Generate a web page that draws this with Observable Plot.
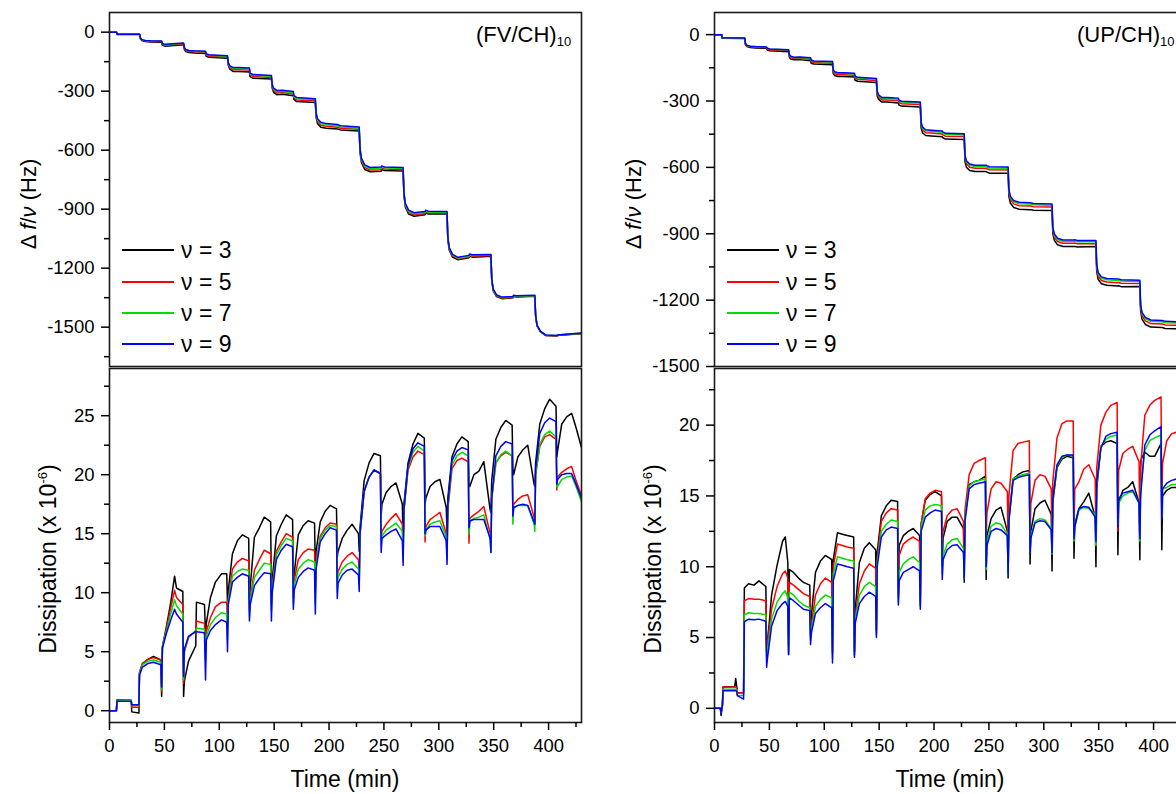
<!DOCTYPE html>
<html><head><meta charset="utf-8">
<script src="https://cdn.jsdelivr.net/npm/d3@7"></script>
<script src="https://cdn.jsdelivr.net/npm/@observablehq/plot@0.6"></script>
<style>
html,body{margin:0;padding:0;background:#fff;overflow:hidden;}
#root{position:relative;width:1176px;height:794px;overflow:hidden;background:#fff;font-family:"Liberation Sans",Arial,sans-serif;color:#000;}
.abs{position:absolute;white-space:nowrap;line-height:1;}
.ylab{position:absolute;white-space:nowrap;line-height:1;font-size:22px;transform:translate(-50%,-50%) rotate(-90deg);}
.leg{position:absolute;height:2px;width:52px;}
</style></head><body><div id="root"></div>
<script>
// ---------------- data ----------------
const harmonics = [3, 5, 7, 9];
const colors = ["#000000", "#ff0000", "#00dd00", "#0000ff"];
const panelTitles = ["(FV/CH)", "(UP/CH)"];
const titleSub = "10";

const xTicksMajor = [0, 50, 100, 150, 200, 250, 300, 350, 400];
const xTicksMinor = [25, 75, 125, 175, 225, 275, 325, 375, 425];
const freqTicksL = [0, -300, -600, -900, -1200, -1500];
const freqMinorL = [-150, -450, -750, -1050, -1350, -1650];
const freqTicksR = [0, -300, -600, -900, -1200, -1500];
const freqMinorR = [-150, -450, -750, -1050, -1350];
const dissTicksL = [0, 5, 10, 15, 20, 25];
const dissMinorL = [2.5, 7.5, 12.5, 17.5, 22.5, 27.5];
const dissTicksR = [0, 5, 10, 15, 20];
const dissMinorR = [2.5, 7.5, 12.5, 17.5, 22.5];

// frequency, left (FV/CH)10
const tFL = [0,6.5,7,
27.5,28.2,29.5,32.5,37.5,47.5,48,50.5,
67.5,68.2,69.5,72.5,77.5,87.5,88,90.5,
107.5,108.2,109.5,112.5,117.5,127.5,128,130.5,
147.5,148.2,149.5,152.5,157.5,167.5,168,170.5,
187.5,188.2,189.5,192.5,197.5,207.5,208,210.5,
227.5,228.2,229.5,232.5,237.5,247.5,248,250.5,
267.5,268.2,269.5,272.5,277.5,287.5,288,290.5,
307.5,308.2,309.5,312.5,317.5,327.5,328,330.5,
347.5,348.2,349.5,352.5,357.5,367.5,368,370.5,
387.5,388.2,389.5,392.5,397.5,407.5,408,410.5,
430];
const f3L = [0,0,-12,
-12,-34,-43,-48,-50,-51,-66,-71,
-64,-88,-99,-104,-106,-108,-121,-128,
-133,-168,-187,-200,-200,-202,-226,-234,
-238,-284,-306,-318,-316,-323,-342,-353,
-357,-432,-465,-483,-489,-493,-492,-497,
-502,-610,-662,-698,-710,-707,-699,-703,
-706,-826,-889,-925,-936,-928,-920,-925,
-925,-1052,-1108,-1144,-1157,-1147,-1140,-1144,
-1139,-1256,-1314,-1344,-1355,-1351,-1344,-1346,
-1343,-1443,-1493,-1523,-1543,-1545,-1543,-1541,
-1533];
const f5L = [0,0,-11,
-11,-32,-40,-45,-47,-48,-62,-67,
-60,-83,-93,-98,-100,-102,-115,-122,
-127,-162,-179,-191,-191,-193,-217,-225,
-230,-276,-297,-309,-307,-315,-334,-345,
-349,-423,-455,-473,-479,-484,-483,-489,
-494,-602,-654,-689,-701,-699,-692,-696,
-699,-820,-882,-918,-929,-922,-915,-920,
-920,-1048,-1104,-1139,-1153,-1143,-1136,-1140,
-1136,-1254,-1311,-1341,-1352,-1349,-1342,-1344,
-1341,-1442,-1492,-1522,-1542,-1544,-1542,-1540,
-1532];
const f7L = [0,0,-10,
-10,-31,-39,-43,-45,-46,-60,-64,
-57,-80,-90,-95,-97,-99,-112,-118,
-123,-158,-174,-185,-185,-187,-212,-219,
-224,-270,-290,-302,-300,-308,-328,-338,
-343,-416,-447,-465,-471,-476,-476,-482,
-488,-596,-647,-682,-694,-692,-686,-690,
-693,-815,-876,-911,-923,-917,-910,-915,
-916,-1044,-1099,-1134,-1149,-1139,-1132,-1136,
-1133,-1252,-1308,-1338,-1350,-1347,-1340,-1342,
-1340,-1441,-1491,-1521,-1541,-1543,-1541,-1539,
-1531];
const f9L = [0,0,-10,
-10,-30,-38,-42,-44,-45,-58,-62,
-55,-78,-88,-93,-95,-97,-110,-115,
-120,-155,-170,-180,-180,-182,-208,-215,
-220,-265,-285,-296,-295,-302,-322,-332,
-338,-410,-440,-458,-465,-470,-470,-476,
-482,-590,-640,-675,-688,-686,-680,-685,
-688,-810,-870,-905,-918,-912,-905,-910,
-912,-1040,-1095,-1130,-1145,-1135,-1128,-1132,
-1130,-1250,-1305,-1335,-1347,-1345,-1338,-1340,
-1338,-1440,-1490,-1520,-1540,-1542,-1540,-1538,
-1530];

// frequency, right (UP/CH)10
const tFR = [0,6.5,7,
27.5,28.2,29.5,32.5,37.5,47.5,48,50.5,
67.5,68.2,69.5,72.5,77.5,87.5,88,90.5,
107.5,108.2,109.5,112.5,117.5,127.5,128,130.5,
147.5,148.2,149.5,152.5,157.5,167.5,168,170.5,
187.5,188.2,189.5,192.5,197.5,207.5,208,210.5,
227.5,228.2,229.5,232.5,237.5,247.5,248,250.5,
267.5,268.2,269.5,272.5,277.5,287.5,288,290.5,
307.5,308.2,309.5,312.5,317.5,327.5,328,330.5,
347.5,348.2,349.5,352.5,357.5,367.5,368,370.5,
387.5,388.2,389.5,392.5,397.5,407.5,408,410.5,
421];
const f3R = [0,0,-16,
-17,-46,-54,-58,-60,-62,-70,-73,
-77,-102,-110,-114,-113,-118,-129,-133,
-136,-176,-185,-189,-189,-192,-206,-211,
-216,-276,-293,-305,-305,-309,-318,-323,
-327,-421,-444,-456,-458,-462,-466,-472,
-474,-574,-599,-614,-619,-619,-621,-626,
-627,-731,-761,-781,-789,-791,-791,-794,
-795,-898,-929,-950,-958,-958,-957,-960,
-958,-1070,-1106,-1126,-1133,-1136,-1135,-1139,
-1138,-1250,-1286,-1310,-1322,-1324,-1324,-1328,
-1330];
const f5R = [0,0,-15,
-16,-43,-51,-55,-57,-59,-66,-69,
-72,-96,-104,-108,-107,-111,-122,-126,
-129,-168,-177,-181,-181,-184,-197,-202,
-207,-266,-283,-295,-295,-298,-307,-312,
-316,-408,-431,-443,-445,-449,-453,-459,
-461,-559,-584,-599,-604,-604,-606,-611,
-612,-715,-745,-765,-773,-775,-775,-778,
-779,-885,-915,-935,-943,-943,-942,-945,
-945,-1056,-1091,-1111,-1118,-1121,-1120,-1124,
-1125,-1236,-1271,-1294,-1306,-1308,-1308,-1312,
-1314];
const f7R = [0,0,-14,
-15,-41,-49,-53,-55,-57,-63,-66,
-69,-92,-100,-104,-103,-107,-117,-121,
-124,-163,-171,-175,-175,-178,-191,-196,
-201,-259,-276,-288,-288,-291,-300,-305,
-309,-400,-423,-435,-437,-441,-445,-451,
-453,-551,-576,-591,-596,-596,-598,-603,
-604,-706,-736,-756,-764,-766,-766,-769,
-771,-876,-906,-926,-934,-934,-933,-936,
-936,-1046,-1081,-1101,-1108,-1111,-1110,-1114,
-1116,-1226,-1261,-1284,-1296,-1298,-1298,-1302,
-1304];
const f9R = [0,0,-14,
-15,-40,-48,-52,-54,-56,-62,-65,
-68,-90,-98,-102,-101,-105,-115,-119,
-122,-160,-168,-172,-172,-175,-188,-193,
-198,-255,-272,-284,-284,-287,-296,-301,
-305,-395,-418,-430,-432,-436,-440,-446,
-448,-545,-570,-585,-590,-590,-592,-597,
-598,-700,-730,-750,-758,-760,-760,-763,
-765,-870,-900,-920,-928,-928,-927,-930,
-930,-1040,-1075,-1095,-1102,-1105,-1104,-1108,
-1110,-1220,-1255,-1278,-1290,-1292,-1292,-1296,
-1298];

// dissipation, left (x 10^-6)
const tDL = [0,6.3,6.8,19.8,20.3,26.8,27.3,30,35,40,46.8,
47.5,48.2,52,55.5,59.3,61,66.8,
67.5,68.2,72,78.6,79.2,86.5,
87.5,88.2,92,96.5,102,106.8,
107.5,108.2,112,116.5,121,126.8,
127.5,128.2,132,136.5,141,146.8,
147.5,148.2,152,156.5,161,166.8,
167.5,168.2,172,176.5,181,186.8,
187.5,188.2,192,196.5,201,206.8,
207.5,208.2,212,216.5,221,226.8,
227.5,228.2,232,236.5,241,246.8,
247.5,248.2,252,256.5,261,266.8,
267.5,268.2,272,276.5,281,286.8,
287.5,288.2,292,296.5,301,306.8,
307.5,308.2,312,316.5,321,326.8,
327.5,328.2,332,336.5,341,346.8,
347.5,348.2,352,356.5,361,366.8,
367.5,368.2,372,376.5,381,386.8,
387.5,388.2,392,396.5,401,406.8,
407.5,408.2,412,416.5,421,425,430];
const d3L = [0,0,0.9,0.85,-0.1,-0.2,3.2,4.0,4.35,4.6,4.3,
1.2,5.4,7.2,9.0,11.4,10.4,10.1,
1.2,2.5,4.2,5.5,9.2,9.0,
6.5,7.4,9.6,10.9,11.6,11.6,
9.0,10.2,13.3,14.4,14.9,14.6,
9.5,10.5,14.7,15.5,16.4,16.0,
10.0,11.0,14.8,15.8,16.6,16.2,
11.0,11.5,14.9,15.7,16.1,15.9,
12.0,13.5,16.0,16.9,17.4,17.1,
13.0,13.5,14.6,15.3,15.8,15.0,
13.5,15.5,19.5,21.0,21.8,21.6,
16.5,17.5,18.5,19.0,19.3,17.5,
14.0,17.5,21.0,22.6,23.5,23.1,
17.5,18.0,19.0,19.4,19.6,17.2,
15.0,18.0,21.5,22.6,23.2,22.8,
19.0,19.0,20.0,20.3,21.1,17.0,
16.8,19.5,23.0,24.0,24.6,24.2,
20.5,20.0,21.5,22.1,22.5,19.2,
19.0,21.0,24.3,25.6,26.4,25.8,
21.5,22.0,24.3,24.9,25.2,24.0,22.3];
const d5L = [0,0,0.9,0.9,0.3,0.3,3.2,4.0,4.35,4.5,4.3,
1.6,5.4,7.0,8.6,10.2,9.6,9.0,
2.3,5.0,6.2,6.8,7.6,7.4,
5.0,6.7,7.9,8.8,9.2,9.2,
7.0,9.5,12.0,12.6,12.9,12.7,
8.5,9.5,11.9,12.8,13.6,13.3,
9.0,10.5,13.5,14.3,15.0,14.7,
9.5,11.0,12.8,13.4,13.7,13.6,
10.0,12.5,14.8,15.5,15.9,15.8,
11.0,11.8,12.6,13.1,13.4,12.8,
11.0,15.0,18.6,19.8,20.4,20.1,
14.5,15.2,15.8,16.3,16.7,15.8,
13.0,17.0,20.4,21.5,22.0,21.7,
14.3,15.6,16.2,16.5,16.8,15.0,
13.0,17.0,20.5,21.2,21.4,21.1,
14.2,16.3,16.6,16.9,17.3,15.0,
14.5,18.0,21.0,21.6,21.9,21.6,
16.5,17.5,17.9,18.2,18.3,16.4,
15.8,20.0,22.4,23.2,23.4,23.0,
18.7,19.8,20.2,20.5,20.7,19.5,18.2];
const d7L = [0,0,0.85,0.85,0.45,0.45,3.1,3.9,4.2,4.3,4.1,
1.8,5.4,6.8,8.1,9.4,8.9,8.2,
2.6,5.1,6.3,6.7,7.0,6.9,
4.2,6.3,7.3,7.9,8.3,8.2,
6.0,9.3,11.4,11.8,12.0,11.9,
8.0,9.3,11.3,11.9,12.5,12.4,
8.5,10.2,13.2,14.0,14.6,14.4,
9.0,10.6,12.0,12.5,12.8,12.6,
9.0,12.3,14.6,15.3,15.7,15.6,
10.0,11.3,12.0,12.4,12.6,12.0,
10.8,15.0,18.6,19.8,20.4,20.1,
14.0,14.8,15.3,15.6,15.9,15.2,
12.8,17.0,20.6,21.9,22.4,22.0,
14.8,15.3,15.8,16.0,16.1,14.7,
12.8,17.3,20.8,21.6,21.9,21.6,
15.0,16.0,16.3,16.4,16.6,14.5,
13.4,18.0,21.0,21.7,22.0,21.6,
15.8,17.2,17.4,17.4,17.4,15.8,
15.2,20.0,22.6,23.4,23.7,23.2,
19.0,19.0,19.6,19.8,19.9,19.0,17.7];
const d9L = [0,0,0.8,0.8,0.5,0.5,3.0,3.7,4.0,4.1,3.9,
2.0,5.3,6.6,7.6,8.6,8.2,7.5,
2.9,5.2,6.3,6.7,6.7,6.6,
2.6,6.0,6.8,7.3,7.7,7.5,
5.0,9.0,10.9,11.3,11.6,11.4,
7.6,9.0,10.6,11.2,11.7,11.6,
7.6,10.0,12.8,13.6,14.1,13.9,
8.6,10.2,11.3,11.8,12.1,11.9,
8.2,12.0,14.3,15.0,15.5,15.3,
9.5,10.8,11.5,11.9,12.0,11.5,
10.1,15.0,18.6,19.8,20.4,20.1,
13.4,14.6,14.9,15.2,15.4,14.4,
12.3,17.0,20.8,22.2,22.7,22.4,
15.0,15.3,15.6,15.6,15.6,14.4,
12.4,17.5,21.2,22.0,22.3,22.1,
15.5,16.1,16.2,16.2,16.2,14.6,
13.4,18.0,21.6,22.4,22.8,22.6,
16.5,17.2,17.4,17.5,17.4,16.0,
15.8,20.5,23.5,24.4,24.8,24.5,
19.2,19.6,20.0,20.1,20.1,19.2,18.0];

// dissipation, right (x 10^-6)
const tDR = [0,5.3,6,7.2,7.8,18.5,19.3,20.3,20.8,26.5,27.2,31,36,40.5,46.8,
47.5,48.2,52,57,62,64.5,66.8,
67.5,68.2,72,76.5,81,86.8,
87.5,88.2,92,96.5,101,106.8,
107.5,108.2,112,116.5,121,126.8,
127.5,128.2,132,136.5,141,146.8,
147.5,148.2,152,156.5,161,166.8,
167.5,168.2,172,176.5,181,186.8,
187.5,188.2,192,196.5,201,206.8,
207.5,208.2,212,216.5,221,226.8,
227.5,228.2,232,236.5,241,246.8,
247.5,248.2,252,256.5,261,266.8,
267.5,268.2,272,276.5,281,286.8,
287.5,288.2,292,296.5,301,306.8,
307.5,308.2,312,316.5,321,326.8,
327.5,328.2,332,336.5,341,346.8,
347.5,348.2,352,356.5,361,366.8,
367.5,368.2,372,376.5,381,386.8,
387.5,388.2,392,396.5,401,406.8,
407.5,408.2,412,416.5,421];
const d3R = [0,0,-0.5,0.2,1.5,1.55,2.1,1.5,1.1,1.1,8.5,8.8,8.7,9.0,8.6,
4.0,4.5,8.0,10.1,11.8,12.1,10.3,
3.8,9.8,9.6,9.2,8.9,8.7,
5.5,6.5,9.6,10.4,10.8,10.5,
4.0,10.5,12.4,12.3,12.2,12.1,
4.0,7.0,10.3,11.3,11.7,11.2,
5.5,11.0,13.6,14.3,14.7,14.6,
8.0,11.5,12.2,12.5,12.7,12.2,
7.5,13.0,14.7,15.1,15.3,15.0,
10.0,12.0,13.2,13.5,13.5,12.7,
8.9,13.5,15.8,16.0,16.1,16.4,
9.1,12.2,13.4,14.0,14.2,12.5,
9.2,13.5,16.2,16.5,16.7,16.8,
10.2,12.5,14.1,14.5,14.7,13.7,
9.7,14.5,17.0,17.6,17.8,17.7,
10.6,13.0,14.1,14.6,15.2,13.5,
10.0,15.5,18.5,18.8,18.9,18.7,
10.85,14.5,15.4,15.6,16.0,14.5,
10.5,17.5,18.1,17.8,17.8,18.7,
11.2,15.0,15.4,15.6,15.6];
const d5R = [0,0,-0.3,0.2,1.5,1.5,1.5,1.45,1.1,1.1,7.6,7.75,7.7,7.7,7.6,
4.0,4.5,7.0,8.6,9.5,9.7,9.2,
4.5,8.9,8.7,8.4,8.1,7.9,
5.0,5.8,8.0,8.8,9.2,8.9,
3.8,10.0,11.6,11.5,11.4,11.3,
3.8,6.5,8.8,9.7,10.2,9.9,
5.3,10.5,13.2,13.8,14.1,14.0,
7.8,10.8,11.6,11.9,12.1,11.8,
7.3,13.0,14.8,15.2,15.4,15.3,
11.5,12.5,13.6,14.0,14.1,13.2,
10.0,14.0,16.5,17.3,17.5,17.7,
12.0,13.8,15.5,16.0,15.9,15.3,
11.0,15.0,18.2,18.7,18.8,18.9,
12.0,14.5,16.1,16.5,16.4,15.5,
11.5,16.0,19.1,20.1,20.3,20.3,
12.0,15.5,16.0,16.9,17.2,16.2,
11.5,17.0,20.0,20.9,21.4,21.6,
12.5,16.8,18.0,18.3,18.5,17.4,
12.0,17.0,20.7,21.4,21.75,22.0,
13.5,17.3,18.9,19.4,19.5];
const d7R = [0,0,-0.3,0.2,1.35,1.35,1.35,1.3,0.9,0.9,6.6,6.75,6.7,6.7,6.6,
3.5,4.0,6.3,7.5,8.1,8.3,7.8,
4.2,8.2,8.0,7.6,7.3,7.1,
4.8,5.5,7.2,7.7,8.0,7.8,
3.5,9.5,10.7,10.6,10.5,10.4,
3.7,6.2,8.0,8.6,8.9,8.6,
5.2,10.3,12.5,13.0,13.3,13.2,
7.5,9.6,10.2,10.5,10.7,10.3,
7.2,12.8,14.0,14.3,14.4,14.3,
9.5,10.8,11.6,11.9,12.0,11.3,
9.2,13.5,15.7,16.0,16.1,16.2,
9.8,11.7,12.85,13.1,13.0,12.3,
9.5,13.3,16.2,16.4,16.5,16.6,
11.0,12.2,13.2,13.4,13.3,12.7,
10.9,14.8,17.1,17.7,17.9,17.8,
11.8,12.8,14.0,14.2,14.1,13.7,
11.5,15.8,18.5,19.0,19.2,19.3,
13.0,14.5,15.0,15.2,15.3,14.5,
11.8,15.5,18.2,18.9,19.1,19.3,
13.5,15.5,15.6,15.8,15.8];
const d9R = [0,0,-0.3,0.2,1.25,1.25,1.25,1.2,0.9,0.65,6.1,6.3,6.25,6.3,6.15,
2.9,3.5,5.8,6.9,7.4,7.55,7.2,
3.8,7.8,7.6,7.3,7.0,6.9,
4.5,5.3,6.7,7.1,7.4,7.1,
3.2,9.0,10.2,10.1,10.0,9.9,
3.6,6.0,7.4,7.9,8.2,7.9,
5.0,10.0,12.1,12.6,12.8,12.7,
7.3,9.0,9.6,9.8,10.0,9.7,
7.0,12.5,13.5,13.8,14.0,13.9,
9.1,10.5,11.2,11.5,11.55,11.0,
9.2,13.2,15.5,15.8,15.9,16.0,
10.0,11.5,12.5,12.7,12.6,12.2,
9.5,13.2,16.1,16.3,16.4,16.5,
11.0,12.0,13.1,13.25,13.2,12.6,
11.0,14.8,17.2,17.8,17.9,17.9,
12.0,12.8,14.1,14.25,14.2,13.5,
11.8,16.0,18.35,19.2,19.4,19.5,
12.8,14.8,15.2,15.3,15.4,14.5,
12.0,15.0,18.6,19.3,19.6,19.9,
13.3,15.5,15.9,16.1,16.2];

// ---------------- drawing ----------------
const root = document.getElementById("root");
const FONT = "'Liberation Sans', Arial, Helvetica, sans-serif";

function panel({left, height, mt, mb, yDomain, yMajor, yMinor, showX, t, series}) {
  const marks = [];
  series.forEach((vals, i) => {
    const data = t.map((tt, j) => ({t: tt, v: vals[j]}));
    marks.push(Plot.line(data, {x: "t", y: "v", stroke: colors[i], strokeWidth: 1.5, clip: true}));
  });
  marks.push(Plot.frame({stroke: "#1a1a1a", strokeWidth: 1.6}));
  marks.push(Plot.axisY({ticks: yMajor, tickSize: 8, tickPadding: 7, tickFormat: d => String(d), label: null, strokeWidth: 1.5}));
  marks.push(Plot.axisY({ticks: yMinor, tickSize: 5, tickFormat: () => "", label: null, strokeWidth: 1.5}));
  if (showX) {
    marks.push(Plot.axisX({ticks: xTicksMajor, tickSize: 8, tickPadding: 8, tickFormat: d => String(d), label: null, strokeWidth: 1.5}));
    marks.push(Plot.axisX({ticks: xTicksMinor, tickSize: 5, tickFormat: () => "", label: null, strokeWidth: 1.5}));
  }
  const svg = Plot.plot({
    width: 600, height,
    marginLeft: 109, marginRight: 19, marginTop: mt, marginBottom: mb,
    x: {domain: [0, 430], axis: showX ? undefined : null, label: null},
    y: {domain: yDomain, label: null},
    style: {background: "transparent", overflow: "visible", maxWidth: "none", fontFamily: FONT, fontSize: "18.5px", color: "#000"},
    marks
  });
  svg.style.position = "absolute";
  svg.style.left = left + "px";
  svg.style.top = "0px";
  root.appendChild(svg);
}

// left column
panel({left: 0, height: 366, mt: 12, mb: 0, yDomain: [-1700, 100], yMajor: freqTicksL, yMinor: freqMinorL, showX: false, t: tFL, series: [f3L, f5L, f7L, f9L]});
panel({left: 0, height: 794, mt: 368, mb: 72, yDomain: [-1, 29], yMajor: dissTicksL, yMinor: dissMinorL, showX: true, t: tDL, series: [d3L, d5L, d7L, d9L]});
// right column
panel({left: 605, height: 366, mt: 12, mb: 0, yDomain: [-1500, 100], yMajor: freqTicksR, yMinor: freqMinorR, showX: false, t: tFR, series: [f3R, f5R, f7R, f9R]});
panel({left: 605, height: 794, mt: 368, mb: 72, yDomain: [-1, 24], yMajor: dissTicksR, yMinor: dissMinorR, showX: true, t: tDR, series: [d3R, d5R, d7R, d9R]});

function addDiv(cls, html, styles) {
  const d = document.createElement("div");
  d.className = cls;
  d.innerHTML = html;
  Object.assign(d.style, styles);
  root.appendChild(d);
  return d;
}

[0, 605].forEach((off, k) => {
  // titles
  addDiv("abs", panelTitles[k] + '<span style="font-size:13px;position:relative;top:4px;">' + titleSub + '</span>',
    {left: (k === 0 ? 476 : 1077) + "px", top: "24px", fontSize: "22px"});
  // axis labels
  addDiv("ylab", '\u0394 <i>f</i>/<i>\u03bd</i> (Hz)', {left: (off + 29) + "px", top: "204px"});
  addDiv("ylab", 'Dissipation (x 10<sup style="font-size:13px;vertical-align:9px;">-6</sup>)', {left: (off + 48) + "px", top: "559px", fontSize: "23px"});
  addDiv("abs", "Time (min)", {left: (off + 345) + "px", top: "768px", fontSize: "23px", transform: "translateX(-50%)"});
  // legend
  const ly = [250, 282, 313, 344];
  harmonics.forEach((h, i) => {
    addDiv("leg", "", {left: (off + 122) + "px", top: (ly[i] - 1) + "px", background: colors[i]});
    addDiv("abs", "\u03bd = " + h, {left: (off + 181) + "px", top: (ly[i] - 11.3) + "px", fontSize: "23px"});
  });
});
</script></body></html>
